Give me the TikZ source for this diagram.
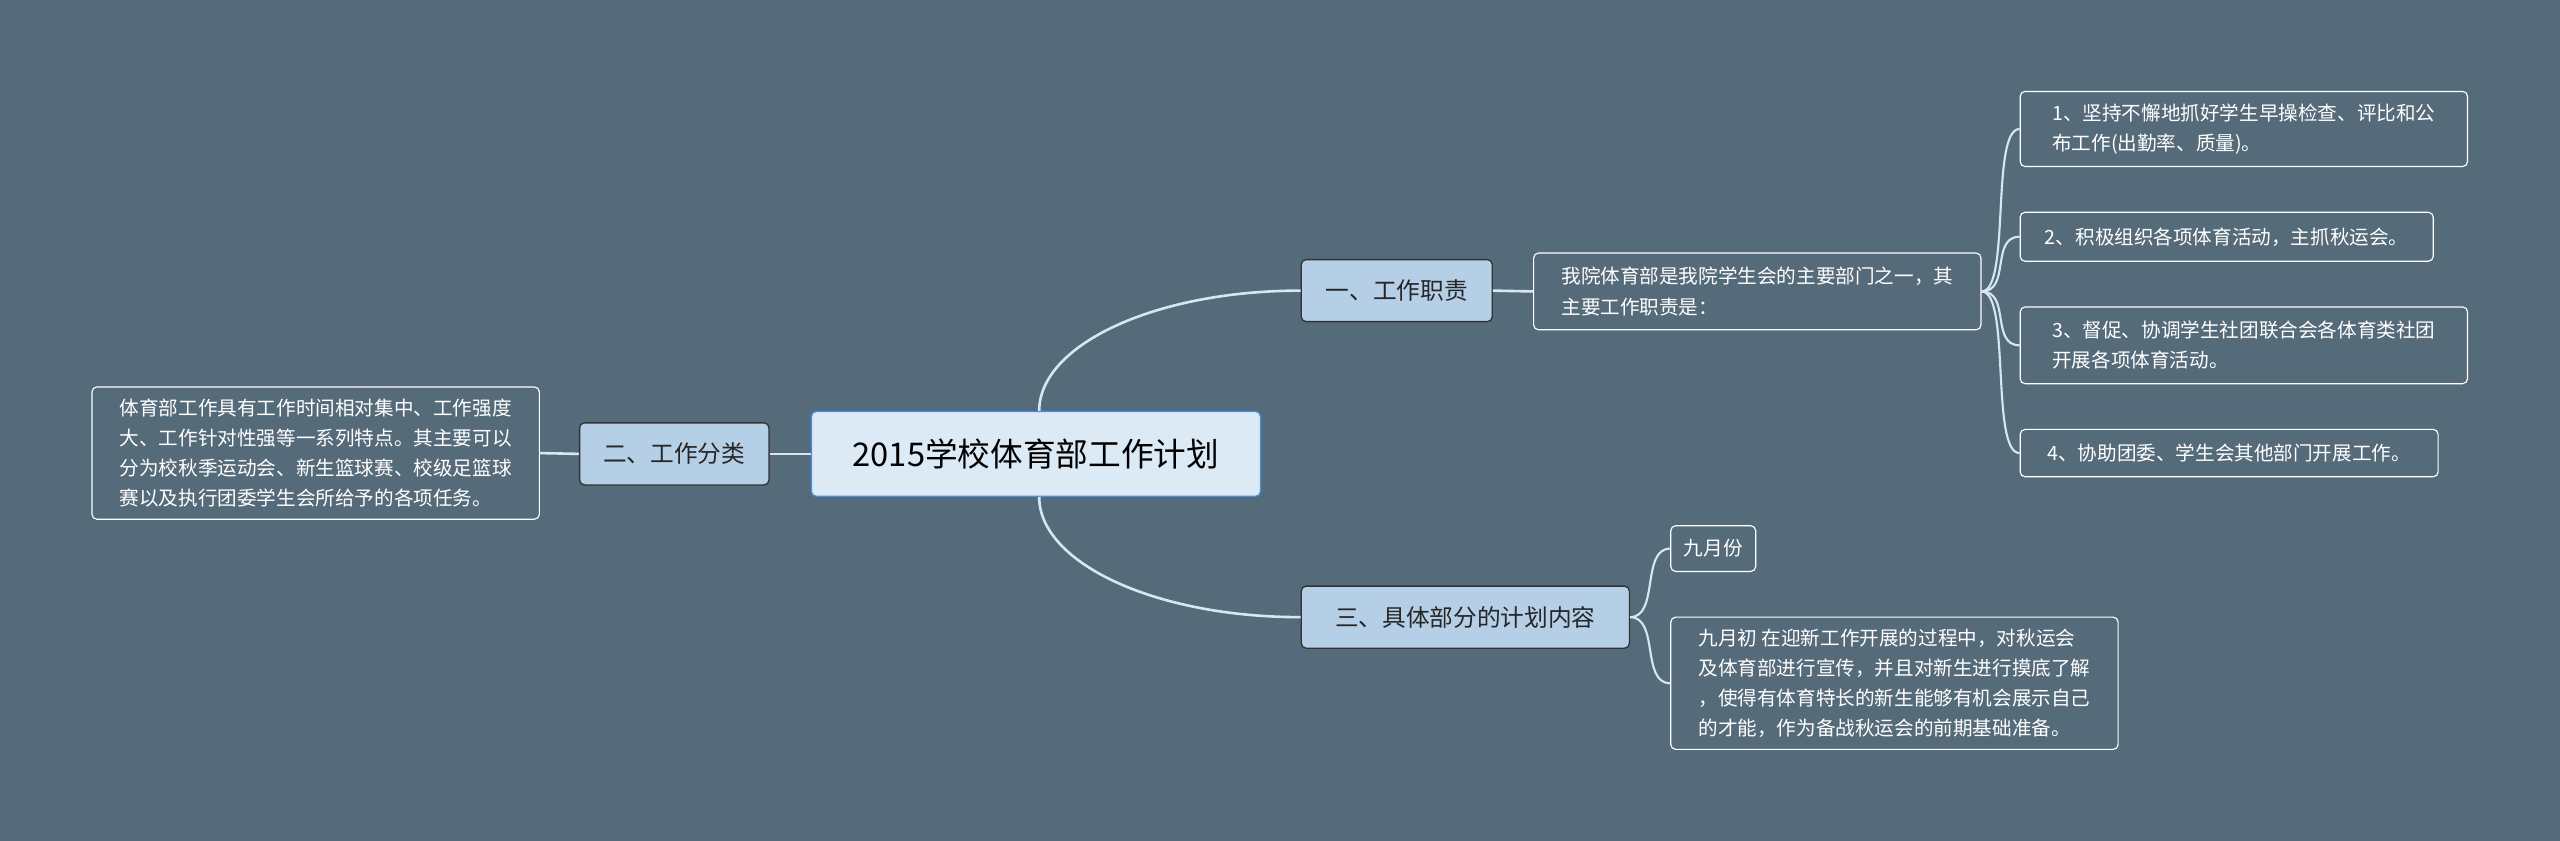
\documentclass[tikz,border=0pt]{standalone}
\usepackage{fontspec}
\setmainfont{Noto Sans CJK SC}
\begin{document}
\begin{tikzpicture}[x=1pt,y=-1pt,
  conn/.style={draw=linec,line width=1.6pt},
  rootbox/.style={draw=rootb,fill=rootf,rounded corners=3pt,line width=0.8pt,font=\fontsize{20}{24}\selectfont,text=black,minimum width=275pt,minimum height=52pt,inner sep=0pt},
  lvone/.style={draw=black!80,fill=lvf,rounded corners=3pt,line width=0.8pt,font=\fontsize{14.5}{17}\selectfont,text=black!85,minimum height=38pt,inner sep=6pt},
  leaf/.style={draw=white,rounded corners=3pt,line width=0.7pt,font=\fontsize{12}{18.5}\selectfont,text=white,align=left,inner xsep=6pt,inner ysep=5pt,anchor=west}]
\definecolor{bg}{HTML}{566B7A}
\definecolor{linec}{HTML}{D6E6F2}
\definecolor{rootf}{HTML}{DCEAF6}
\definecolor{rootb}{HTML}{4A90D9}
\definecolor{lvf}{HTML}{B5CFE6}
\fill[bg] (0,0) rectangle (1568,515);
\useasboundingbox (0,0) rectangle (1568,515);
\node[rootbox] (root) at (634.5,278) {2015学校体育部工作计划};
\node[lvone,minimum width=117pt] (a) at (855.5,178) {一、工作职责};
\node[lvone,minimum width=116pt] (b) at (413,278) {二、工作分类};
\node[lvone,minimum width=201pt] (c) at (897.5,378) {三、具体部分的计划内容};
\node[leaf,minimum width=274pt,minimum height=81pt] (bl) at (56,277.5) {体育部工作具有工作时间相对集中、工作强度\\大、工作针对性强等一系列特点。其主要可以\\分为校秋季运动会、新生篮球赛、校级足篮球\\赛以及执行团委学生会所给予的各项任务。};
\node[leaf,minimum width=274pt,minimum height=47pt] (al) at (939,178.5) {我院体育部是我院学生会的主要部门之一，其\\主要工作职责是：};
\node[leaf,minimum width=274pt,minimum height=46pt] (r1) at (1237,79) {1、坚持不懈地抓好学生早操检查、评比和公\\布工作(出勤率、质量)。};
\node[leaf,minimum width=253pt,minimum height=30pt] (r2) at (1237,145) {2、积极组织各项体育活动，主抓秋运会。};
\node[leaf,minimum width=274pt,minimum height=47pt] (r3) at (1237,211.5) {3、督促、协调学生社团联合会各体育类社团\\开展各项体育活动。};
\node[leaf,minimum width=256pt,minimum height=29pt] (r4) at (1237,277.5) {4、协助团委、学生会其他部门开展工作。};
\node[leaf,minimum width=52pt,minimum height=28pt] (c1) at (1023,336) {九月份};
\node[leaf,minimum width=274pt,minimum height=81pt] (c2) at (1023,418.5) {九月初 在迎新工作开展的过程中，对秋运会\\及体育部进行宣传，并且对新生进行摸底了解\\，使得有体育特长的新生能够有机会展示自己\\的才能，作为备战秋运会的前期基础准备。};
\draw[conn] (root.north) ++(2,0) .. controls +(0,-40) and +(-90,0) .. (a.west);
\draw[conn] (root.south) ++(2,0) .. controls +(0,40) and +(-90,0) .. (c.west);
\draw[conn] (root.west) -- (b.east);
\draw[conn] (b.west) -- (bl.east);
\draw[conn] (a.east) -- (al.west);
\foreach \t in {r1,r2,r3,r4}
  \draw[conn,line width=1.3pt] (al.east) .. controls +(18,0) and +(-18,0) .. (\t.west);
\foreach \t in {c1,c2}
  \draw[conn,line width=1.3pt] (c.east) .. controls +(18,0) and +(-18,0) .. (\t.west);
\end{tikzpicture}
\end{document}
